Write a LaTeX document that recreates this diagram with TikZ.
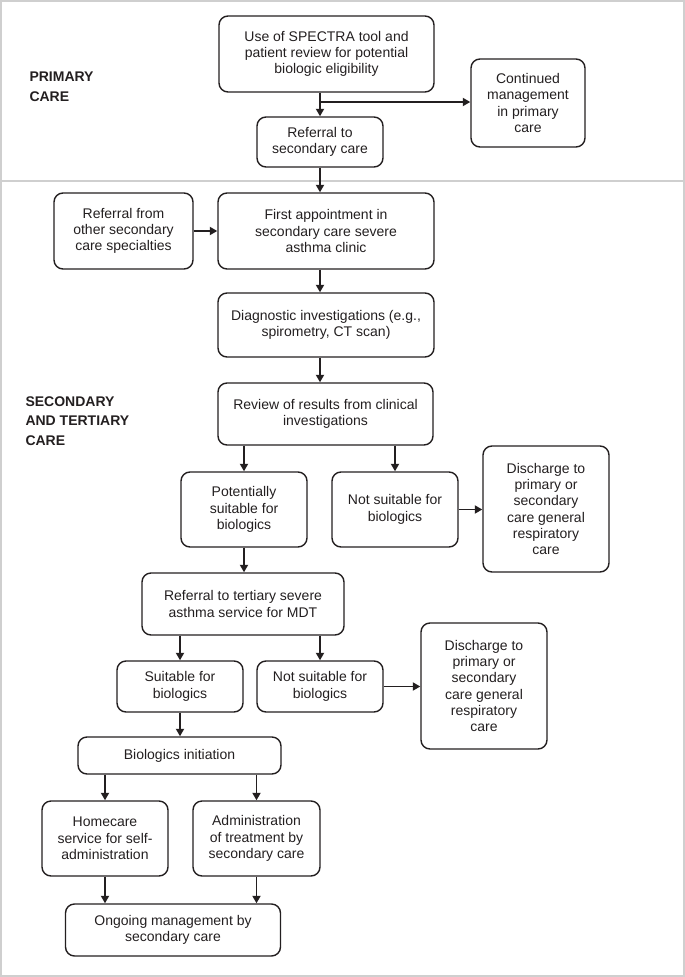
\documentclass[tikz,border=0pt]{standalone}
\usepackage{fontspec}
\setmainfont{Liberation Sans}
\usetikzlibrary{arrows.meta}
\definecolor{ink}{HTML}{231F20}
\definecolor{frame}{HTML}{CFCFCF}
\tikzset{
  box/.style={draw=ink, line width=1.4pt, rounded corners=9pt, align=center,
    inner sep=2pt, text=ink, font=\fontsize{14}{16.3}\selectfont},
  arr/.style={draw=ink, line width=1.9pt, -{Triangle[length=7.5pt,width=8pt]}},
  zone/.style={anchor=west, align=left, text=ink, font=\bfseries\fontsize{14}{19.6}\selectfont}
}
\begin{document}
\begin{tikzpicture}[x=1pt,y=-1pt]
\useasboundingbox (0,0) rectangle (685,977);
\draw[frame, line width=2pt] (1,1) rectangle (684,975.5);
\draw[frame, line width=2pt] (1,181) -- (684,181);

\node[zone] (lp) at (26,87) {PRIMARY\\CARE};
\node[zone] (ls) at (22,421) {SECONDARY\\AND TERTIARY\\CARE};

\node[box, minimum width=215pt, minimum height=76pt] (B1) at (326.5,54) {Use of SPECTRA tool and\\patient review for potential\\biologic eligibility};
\node[box, minimum width=114pt, minimum height=88pt] (Cont) at (528,103) {Continued\\management\\in primary\\care};
\node[box, minimum width=126pt, minimum height=50pt] (Ref) at (320,142) {Referral to\\secondary care};
\node[box, minimum width=139pt, minimum height=76pt] (Other) at (123.5,231) {Referral from\\other secondary\\care specialties};
\node[box, minimum width=216pt, minimum height=76pt] (First) at (326,231) {First appointment in\\secondary care severe\\asthma clinic};
\node[box, minimum width=216pt, minimum height=64pt] (Diag) at (326,325) {Diagnostic investigations (e.g.,\\spirometry, CT scan)};
\node[box, minimum width=215pt, minimum height=62pt] (Rev) at (325.5,414) {Review of results from clinical\\investigations};
\node[box, minimum width=126pt, minimum height=75pt] (Pot) at (244,509.5) {Potentially\\suitable for\\biologics};
\node[box, minimum width=126pt, minimum height=75pt] (NS1) at (395,509.5) {Not suitable for\\biologics};
\node[box, minimum width=126pt, minimum height=126pt] (D1) at (546,509) {Discharge to\\primary or\\secondary\\care general\\respiratory\\care};
\node[box, minimum width=202pt, minimum height=62pt] (Tert) at (243,604) {Referral to tertiary severe\\asthma service for MDT};
\node[box, minimum width=126pt, minimum height=51pt] (Suit) at (180,686.5) {Suitable for\\biologics};
\node[box, minimum width=126pt, minimum height=51pt] (NS2) at (320,686.5) {Not suitable for\\biologics};
\node[box, minimum width=126pt, minimum height=126pt] (D2) at (484,686) {Discharge to\\primary or\\secondary\\care general\\respiratory\\care};
\node[box, minimum width=203pt, minimum height=37pt] (Init) at (179.5,755.5) {Biologics initiation};
\node[box, minimum width=126pt, minimum height=75pt] (Home) at (105,838.5) {Homecare\\service for self-\\administration};
\node[box, minimum width=127pt, minimum height=75pt] (Adm) at (256.5,838.5) {Administration\\of treatment by\\secondary care};
\node[box, minimum width=215pt, minimum height=52pt] (Ong) at (173,930) {Ongoing management by\\secondary care};

\coordinate (br) at (320,102);
\draw[arr] (Ref.north |- B1.south) -- (Ref.north);
\draw[arr] (br) -- (br -| Cont.west);
\draw[arr] (Ref.south) -- (Ref.south |- First.north);
\draw[arr] (Other.east) -- (First.west);
\draw[arr] (Ref.south |- First.south) -- (Ref.south |- Diag.north);
\draw[arr] (Ref.south |- Diag.south) -- (Ref.south |- Rev.north);
\draw[arr] (Pot.north |- Rev.south) -- (Pot.north);
\draw[arr] (NS1.north |- Rev.south) -- (NS1.north);
\draw[arr] (NS1.east) -- (NS1.east -| D1.west);
\draw[arr] (Pot.south) -- (Pot.south |- Tert.north);
\draw[arr] (Suit.north |- Tert.south) -- (Suit.north);
\draw[arr] (NS2.north |- Tert.south) -- (NS2.north);
\draw[arr] (NS2.east) -- (NS2.east -| D2.west);
\draw[arr] (Suit.south) -- (Suit.south |- Init.north);
\draw[arr] (Home.north |- Init.south) -- (Home.north);
\draw[arr] (Adm.north |- Init.south) -- (Adm.north);
\draw[arr] (Home.south) -- (Home.south |- Ong.north);
\draw[arr] (Adm.south) -- (Adm.south |- Ong.north);
\end{tikzpicture}
\end{document}
